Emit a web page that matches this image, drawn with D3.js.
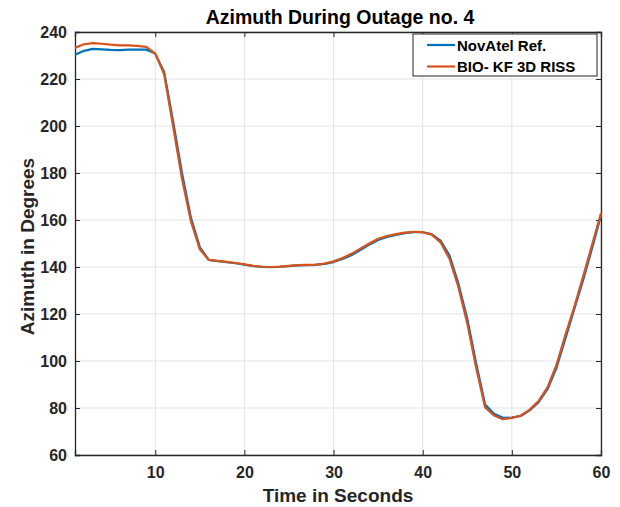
<!DOCTYPE html>
<html><head><meta charset="utf-8">
<script src="https://cdn.jsdelivr.net/npm/d3@7"></script>
<style>body{margin:0;background:#fff;} text{font-family:"Liberation Sans",Arial,sans-serif;}</style>
</head><body>
<svg id="c" width="620" height="507"></svg>
<script>
const time = d3.range(1, 61);
const novatel = [230.3,232.0,232.8,232.6,232.4,232.3,232.5,232.5,232.5,230.8,
  223.0,202.0,180.0,161.0,148.5,143.0,142.5,142.1,141.6,141.0,
  140.4,140.0,139.9,140.1,140.4,140.7,140.8,140.9,141.3,142.1,
  143.4,145.0,147.2,149.5,151.5,152.8,153.7,154.4,154.8,154.8,
  154.0,151.2,145.0,133.0,118.0,99.0,81.5,77.5,75.8,75.9,
  76.6,79.0,82.5,88.0,97.0,109.5,122.0,134.5,148.0,162.0];
const bioKF = [233.3,234.8,235.3,235.0,234.6,234.3,234.3,234.1,233.7,230.8,
  222.0,200.0,177.5,159.5,147.5,143.0,142.6,142.2,141.7,141.1,
  140.5,140.1,140.0,140.2,140.5,140.8,140.9,141.0,141.5,142.4,
  143.8,145.6,147.8,150.0,152.0,153.2,154.0,154.6,155.0,154.8,
  153.8,150.5,143.5,131.5,116.0,97.0,80.2,76.8,75.2,75.8,
  76.8,79.3,83.0,88.8,98.3,111.0,123.0,136.0,149.5,163.0];
const xTicks = [10,20,30,40,50,60];
const yTicks = [60,80,100,120,140,160,180,200,220,240];
const seriesNames = ["NovAtel Ref.","BIO- KF 3D RISS"];
const colors = ["#0072BD","#D95319"];

const svg = d3.select("#c");
const L=75, R=601, T=32, B=455;
const x = d3.scaleLinear().domain([1,60]).range([L,R]);
const y = d3.scaleLinear().domain([60,240]).range([B,T]);
const ink="#262626";

// grid
svg.append("g").selectAll("line").data(xTicks).join("line")
  .attr("x1",d=>x(d)).attr("x2",d=>x(d)).attr("y1",T).attr("y2",B)
  .attr("stroke","#e3e3e3").attr("stroke-width",1);
svg.append("g").selectAll("line").data(yTicks).join("line")
  .attr("y1",d=>y(d)).attr("y2",d=>y(d)).attr("x1",L).attr("x2",R)
  .attr("stroke","#e3e3e3").attr("stroke-width",1);

// axes
const ax = svg.append("g").attr("transform",`translate(0,${B})`)
  .call(d3.axisBottom(x).tickValues(xTicks).tickSize(-5).tickPadding(12));
const ay = svg.append("g").attr("transform",`translate(${L},0)`)
  .call(d3.axisLeft(y).tickValues(yTicks).tickSize(-5).tickPadding(8));
const axT = svg.append("g").attr("transform",`translate(0,${T})`)
  .call(d3.axisTop(x).tickValues(xTicks).tickSize(-5).tickFormat(""));
const ayR = svg.append("g").attr("transform",`translate(${R},0)`)
  .call(d3.axisRight(y).tickValues(yTicks).tickSize(-5).tickFormat(""));
[ax,ay,axT,ayR].forEach(g=>{
  g.select(".domain").attr("stroke",ink).attr("stroke-width",1.3);
  g.selectAll(".tick line").attr("stroke",ink).attr("stroke-width",1);
  g.selectAll(".tick text").attr("fill",ink).attr("font-size",16).attr("font-weight","bold")
   .attr("font-family","'Liberation Sans',Arial,sans-serif");
});

// lines
const line = d3.line().x((d,i)=>x(time[i])).y(d=>y(d));
[novatel,bioKF].forEach((s,k)=>{
  svg.append("path").datum(s).attr("d",line).attr("fill","none")
    .attr("stroke",colors[k]).attr("stroke-width",2.2).attr("stroke-linejoin","round");
});

// title and labels
svg.append("text").attr("x",(L+R)/2+2).attr("y",24).attr("text-anchor","middle")
  .attr("font-size",19.5).attr("font-weight","bold").attr("fill","#000")
  .text("Azimuth During Outage no. 4");
svg.append("text").attr("x",(L+R)/2).attr("y",502).attr("text-anchor","middle")
  .attr("font-size",19).attr("font-weight","bold").attr("fill",ink)
  .text("Time in Seconds");
svg.append("text").attr("transform",`translate(34,${(T+B)/2+3}) rotate(-90)`).attr("text-anchor","middle")
  .attr("font-size",19).attr("font-weight","bold").attr("fill",ink)
  .text("Azimuth in Degrees");

// legend
const lg = svg.append("g");
lg.append("rect").attr("x",413).attr("y",34).attr("width",184).attr("height",42)
  .attr("fill","#fff").attr("stroke",ink).attr("stroke-width",1);
seriesNames.forEach((n,k)=>{
  const yy = 45 + k*21.5;
  lg.append("line").attr("x1",427).attr("x2",455).attr("y1",yy).attr("y2",yy)
    .attr("stroke",colors[k]).attr("stroke-width",2.2);
  lg.append("text").attr("x",457).attr("y",yy+5.5).attr("font-size",15).attr("font-weight","bold")
    .attr("fill","#000").text(n);
});
</script>
</body></html>
